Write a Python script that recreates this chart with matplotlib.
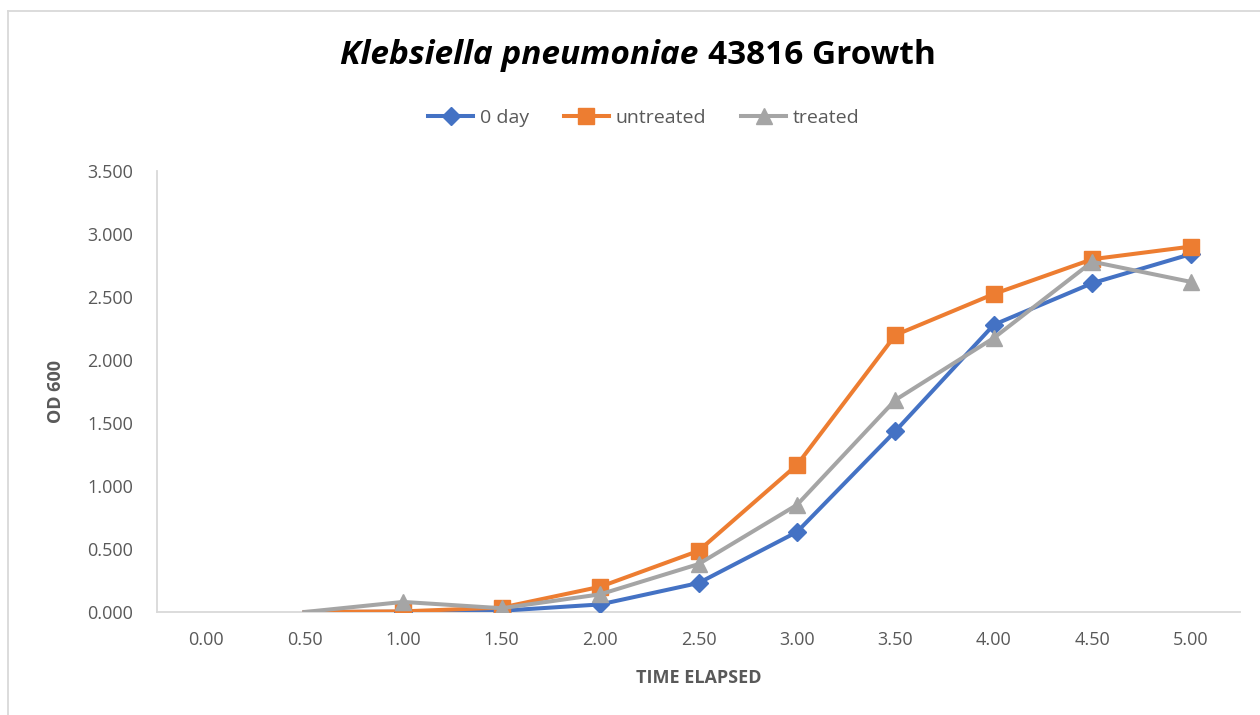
import matplotlib.pyplot as plt
from matplotlib.lines import Line2D
import numpy as np

plt.rcParams['font.family'] = ['Open Sans', 'DejaVu Sans']

# growth readings, OD 600 per half hour
time_labels = ['0.00', '0.50', '1.00', '1.50', '2.00', '2.50',
               '3.00', '3.50', '4.00', '4.50', '5.00']
day0 = [np.nan, 0.0, 0.002, 0.01, 0.06, 0.23, 0.635, 1.436, 2.28, 2.61, 2.84]
untreated = [np.nan, 0.0, 0.005, 0.035, 0.20, 0.485, 1.167, 2.198, 2.524, 2.80, 2.90]
treated = [np.nan, 0.0, 0.08, 0.03, 0.14, 0.38, 0.85, 1.683, 2.175, 2.78, 2.62]
series_names = ['0 day', 'untreated', 'treated']

grey_txt = '#595959'
axis_col = '#d9d9d9'

fig = plt.figure(figsize=(12.6, 7.15), dpi=100)
ax = fig.add_axes([157/1260, 1 - 612/715, (1240 - 157)/1260, (612 - 171)/715])

x = np.arange(len(time_labels))
marks = list(range(2, len(time_labels)))
ax.plot(x, day0, color='#4472C4', lw=2.9, marker='D', ms=9,
        markevery=marks, label=series_names[0], zorder=3)
ax.plot(x, untreated, color='#ED7D31', lw=2.9, marker='s', ms=11,
        markevery=marks, label=series_names[1], zorder=3)
ax.plot(x, treated, color='#A5A5A5', lw=2.9, marker='^', ms=12,
        markevery=marks, label=series_names[2], zorder=4)

ax.set_xlim(-0.5, len(time_labels) - 0.5)
ax.set_ylim(0, 3.5)
ax.set_xticks(x)
ax.set_xticklabels(time_labels)
ax.set_yticks(np.arange(0, 3.51, 0.5))
ax.set_yticklabels([f'{v:.3f}' for v in np.arange(0, 3.51, 0.5)])
ax.tick_params(length=0, labelsize=13, colors=grey_txt)
ax.tick_params(axis='x', pad=14)
ax.tick_params(axis='y', pad=17)
for s in ['top', 'right']:
    ax.spines[s].set_visible(False)
for s in ['left', 'bottom']:
    ax.spines[s].set_color(axis_col)
    ax.spines[s].set_linewidth(1.3)
ax.spines['bottom'].set_zorder(1)

ax.set_xlabel('TIME ELAPSED', fontsize=13, fontweight='bold', color=grey_txt, labelpad=14)
ax.set_ylabel('OD 600', fontsize=13, fontweight='bold', color=grey_txt, labelpad=16)

# title: italic species name, plain strain + label, centred as one line
ty = 1 - 55/715
t1 = fig.text(0, ty, 'Klebsiella pneumoniae', fontsize=24, fontweight='bold',
              style='italic', ha='left', va='center', color='black')
t2 = fig.text(0, ty, '43816 Growth', fontsize=24, fontweight='bold',
              ha='left', va='center', color='black')
r = fig.canvas.get_renderer()
w1 = t1.get_window_extent(r).width / 1260
w2 = t2.get_window_extent(r).width / 1260
gap = 10 / 1260
x0 = 638/1260 - (w1 + gap + w2) / 2
t1.set_x(x0)
t2.set_x(x0 + w1 + gap)

fig.legend(loc='center', bbox_to_anchor=(644/1260, 1 - 118/715), ncol=3, frameon=False,
           fontsize=14, handlelength=2.3, columnspacing=1.8, handletextpad=0.35,
           labelcolor=grey_txt)

# chart border
fig.add_artist(Line2D([8/1260, 8/1260], [0, 1 - 11/715], transform=fig.transFigure,
                      color=axis_col, lw=1.3))
fig.add_artist(Line2D([8/1260, 1], [1 - 11/715, 1 - 11/715], transform=fig.transFigure,
                      color=axis_col, lw=1.3))

fig.savefig('out.png', dpi=100)
